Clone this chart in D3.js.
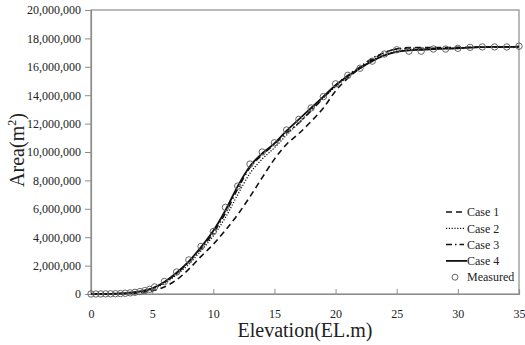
<!DOCTYPE html>
<html>
<head>
<meta charset="utf-8">
<script src="https://cdn.jsdelivr.net/npm/d3@7"></script>
<style>
  body { margin: 0; background: #fff; }
  svg { display: block; font-family: "Times New Roman", "Liberation Serif", Tinos, Times, serif; }
</style>
</head>
<body>
<div id="wrapper"></div>
<script>
// values in millions of m2
const elevations = d3.range(0, 36);
const case1 = [0, 0, 0.01, 0.04, 0.1, 0.22, 0.5, 1.0, 1.75, 2.65, 3.5, 4.5, 5.6, 6.85, 8.2, 9.5,
  10.55, 11.3, 12.15, 13.1, 14.3, 15.2, 15.9, 16.5, 17.0, 17.25, 17.35, 17.35, 17.35, 17.36,
  17.37, 17.38, 17.4, 17.4, 17.4, 17.42];
const case2 = [0, 0.01, 0.02, 0.06, 0.15, 0.35, 0.75, 1.35, 2.1, 3.05, 4.1, 5.4, 7.0, 8.5, 9.5, 10.3,
  11.2, 12.05, 12.95, 13.8, 14.6, 15.3, 15.9, 16.45, 16.85, 17.1, 17.2, 17.22, 17.25, 17.28,
  17.3, 17.35, 17.38, 17.4, 17.4, 17.42];
const case3 = [0, 0.01, 0.03, 0.07, 0.17, 0.38, 0.82, 1.45, 2.25, 3.2, 4.3, 5.7, 7.4, 8.9, 9.8, 10.55,
  11.35, 12.05, 12.9, 13.8, 14.7, 15.4, 16.0, 16.6, 17.0, 17.25, 17.3, 17.3, 17.3, 17.32,
  17.33, 17.36, 17.38, 17.4, 17.4, 17.42];
const case4 = [0, 0.01, 0.03, 0.08, 0.18, 0.4, 0.85, 1.5, 2.3, 3.3, 4.45, 5.9, 7.6, 9.0, 9.9, 10.6,
  11.5, 12.3, 13.1, 13.9, 14.7, 15.35, 15.9, 16.4, 16.8, 17.05, 17.15, 17.2, 17.25, 17.28,
  17.3, 17.35, 17.38, 17.4, 17.4, 17.42];

const measuredElev = [0, 0.4, 0.8, 1.2, 1.6, 2.0, 2.4, 2.8, 3.2, 3.6, 4.0, 4.4, 4.8, 5.2,
  6, 7, 8, 9, 10, 11, 12, 13, 14, 15, 16, 17, 18, 19, 20, 21, 22, 23, 24, 25, 26, 27, 28, 29,
  30, 31, 32, 33, 34, 35];
const measuredArea = [0, 0, 0.005, 0.01, 0.015, 0.02, 0.03, 0.05, 0.08, 0.12, 0.17, 0.24, 0.33, 0.5,
  0.88, 1.55, 2.4, 3.35, 4.4, 6.1, 7.6, 9.15, 10.0, 10.65, 11.55, 12.3, 13.1, 13.9, 14.8, 15.4,
  15.9, 16.4, 16.9, 17.2, 17.1, 17.1, 17.25, 17.25, 17.3, 17.37, 17.4, 17.4, 17.4, 17.45];

const xTicks = [0, 5, 10, 15, 20, 25, 30, 35];
const yTicks = [0, 2, 4, 6, 8, 10, 12, 14, 16, 18, 20];
const seriesNames = ["Case 1", "Case 2", "Case 3", "Case 4"];

const AXIS_COLOR = "#8c8c8c";
const FONT = "'Times New Roman', 'Liberation Serif', Tinos, Times, serif";

const dimensions = {
  width: 525,
  height: 345,
  margin: { top: 10, right: 6, bottom: 51, left: 91 }
};
dimensions.boundedWidth = dimensions.width - dimensions.margin.left - dimensions.margin.right;
dimensions.boundedHeight = dimensions.height - dimensions.margin.top - dimensions.margin.bottom;

const wrapper = d3.select("#wrapper").append("svg")
  .attr("width", dimensions.width)
  .attr("height", dimensions.height);

const bounds = wrapper.append("g")
  .attr("transform", `translate(${dimensions.margin.left},${dimensions.margin.top})`);

const xScale = d3.scaleLinear().domain([0, 35]).range([0, dimensions.boundedWidth]);
const yScale = d3.scaleLinear().domain([0, 20]).range([dimensions.boundedHeight, 0]);

// frame
bounds.append("rect")
  .attr("width", dimensions.boundedWidth)
  .attr("height", dimensions.boundedHeight)
  .attr("fill", "none")
  .attr("stroke", AXIS_COLOR)
  .attr("stroke-width", 1.2);

const fmt = d3.format(",");

const yAxis = bounds.append("g")
  .call(d3.axisLeft(yScale).tickValues(yTicks).tickSize(6).tickPadding(4)
    .tickFormat(d => fmt(d * 1e6)));
const xAxis = bounds.append("g")
  .attr("transform", `translate(0,${dimensions.boundedHeight})`)
  .call(d3.axisBottom(xScale).tickValues(xTicks).tickSize(-5).tickPadding(15));

[xAxis, yAxis].forEach(ax => {
  ax.attr("font-family", null);
  ax.select(".domain").attr("stroke", AXIS_COLOR).attr("stroke-width", 1.2);
  ax.selectAll(".tick line").attr("stroke", AXIS_COLOR);
  ax.selectAll("text")
    .attr("fill", "#222")
    .style("font-family", FONT)
    .style("font-size", "12px");
});

// axis titles
wrapper.append("text")
  .attr("x", 305)
  .attr("y", 337)
  .attr("text-anchor", "middle")
  .style("font-size", "20px")
  .attr("fill", "#222")
  .text("Elevation(EL.m)");

const yTitle = wrapper.append("text")
  .attr("transform", "translate(24,150) rotate(-90)")
  .attr("text-anchor", "middle")
  .style("font-size", "20px")
  .attr("fill", "#222");
yTitle.append("tspan").text("Area(m");
yTitle.append("tspan").attr("dy", -8).style("font-size", "12px").text("2");
yTitle.append("tspan").attr("dy", 8).text(")");

const styles = [
  { dash: "6,4", width: 1.6 },
  { dash: "1.2,1.6", width: 1.3 },
  { dash: "6,3,1.5,3", width: 1.5 },
  { dash: null, width: 1.8 }
];
const seriesData = [case1, case2, case3, case4];

const lineGen = d3.line()
  .x(d => xScale(d[0]))
  .y(d => yScale(d[1]))
  .curve(d3.curveMonotoneX);

seriesData.forEach((vals, i) => {
  bounds.append("path")
    .datum(elevations.map((e, j) => [e, vals[j]]))
    .attr("d", lineGen)
    .attr("fill", "none")
    .attr("stroke", "#111")
    .attr("stroke-width", styles[i].width)
    .attr("stroke-dasharray", styles[i].dash);
});

bounds.append("g")
  .selectAll("circle")
  .data(measuredElev.map((e, j) => [e, measuredArea[j]]))
  .join("circle")
  .attr("cx", d => xScale(d[0]))
  .attr("cy", d => yScale(d[1]))
  .attr("r", 3.2)
  .attr("fill", "none")
  .attr("stroke", "#666")
  .attr("stroke-width", 1);

// legend
const legend = wrapper.append("g").attr("transform", "translate(446,212)");
seriesNames.forEach((name, i) => {
  const row = legend.append("g").attr("transform", `translate(0,${i * 16.3})`);
  row.append("line")
    .attr("x1", 0).attr("x2", i === 3 ? 21 : 18)
    .attr("stroke", "#111")
    .attr("stroke-width", styles[i].width)
    .attr("stroke-dasharray", styles[i].dash);
  row.append("text")
    .attr("x", 21).attr("dy", "0.35em")
    .style("font-size", "12px").attr("fill", "#222")
    .text(name);
});
const mRow = legend.append("g").attr("transform", `translate(0,${4 * 16.3})`);
mRow.append("circle").attr("cx", 9).attr("r", 3).attr("fill", "none").attr("stroke", "#666");
mRow.append("text").attr("x", 21).attr("dy", "0.35em")
  .style("font-size", "12px").attr("fill", "#222").text("Measured");
</script>
</body>
</html>
